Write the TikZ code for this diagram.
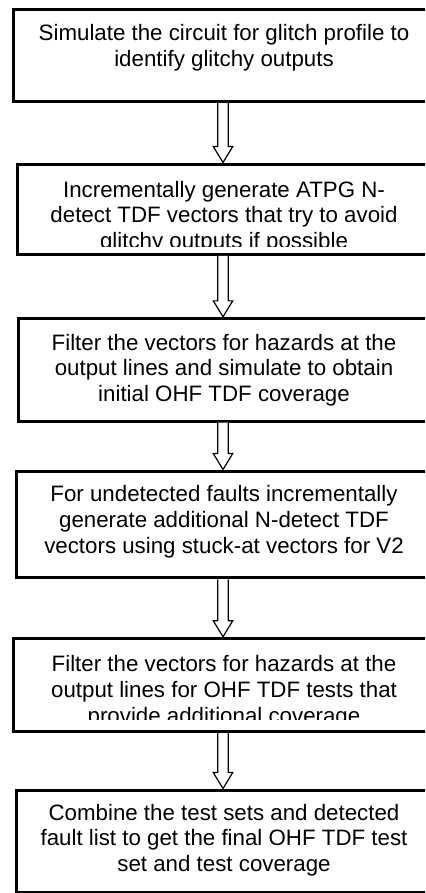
\documentclass[tikz,border=0pt]{standalone}
\usepackage{fontspec}
\setmainfont{Liberation Sans}
\usetikzlibrary{calc}
\begin{document}
\begin{tikzpicture}[x=1bp,y=-1bp,line join=miter]
	\tikzset{stepbox/.style={draw,line width=3bp,inner sep=0pt},
		steptext/.style={anchor=north,align=center,inner sep=0pt,font=\fontsize{22.3bp}{25.7bp}\selectfont},
		blockarrow/.style={line width=1.2bp,fill=white}}
	\useasboundingbox (0,0) rectangle (425,893);
	\clip (0,0) rectangle (425,893);
	\node[stepbox,minimum width=419.4bp,minimum height=92.4bp] (box1) at (223,55.5) {};
	\node[stepbox,minimum width=411.4bp,minimum height=90.3bp] (box2) at (223,209.2) {};
	\node[stepbox,minimum width=408.6bp,minimum height=102.7bp] (box3) at (223,369.7) {};
	\node[stepbox,minimum width=413.4bp,minimum height=106.7bp] (box4) at (223,524.4) {};
	\node[stepbox,minimum width=419.4bp,minimum height=93.4bp] (box5) at (223,685) {};
	\node[stepbox,minimum width=413.4bp,minimum height=102.5bp] (box6) at (223,841.3) {};
	\node[steptext] (text1) at (224,24.5) {Simulate the circuit for glitch profile to\\identify glitchy outputs};
	\begin{scope}
		\clip (box2.north west) rectangle (425,246.7);
		\node[steptext] (text2) at (224,180.8) {Incrementally generate ATPG N-\\detect TDF vectors that try to avoid\\glitchy outputs if possible};
	\end{scope}
	\node[steptext] (text3) at (224,333.8) {Filter the vectors for hazards at the\\output lines and simulate to obtain\\initial OHF TDF coverage};
	\node[steptext] (text4) at (224,485.5) {For undetected faults incrementally\\generate additional N-detect TDF\\vectors using stuck-at vectors for V2};
	\begin{scope}
		\clip (box5.north west) rectangle (425,719.3);
		\node[steptext] (text5) at (224,655.5) {Filter the vectors for hazards at the\\output lines for OHF TDF tests that\\provide additional coverage};
	\end{scope}
	\node[steptext] (text6) at (224,803.8) {Combine the test sets and detected\\fault list to get the final OHF TDF test\\set and test coverage};
	\foreach \a/\b in {box1/box2,box2/box3,box3/box4,box4/box5,box5/box6}
	\draw[blockarrow] ($(\a.south)+(-5.3,0)$)--($(\b.north)+(-5.3,-16)$)--($(\b.north)+(-9.7,-16)$)--(\b.north)--($(\b.north)+(9.7,-16)$)--($(\b.north)+(5.3,-16)$)--($(\a.south)+(5.3,0)$);
\end{tikzpicture}
\end{document}
